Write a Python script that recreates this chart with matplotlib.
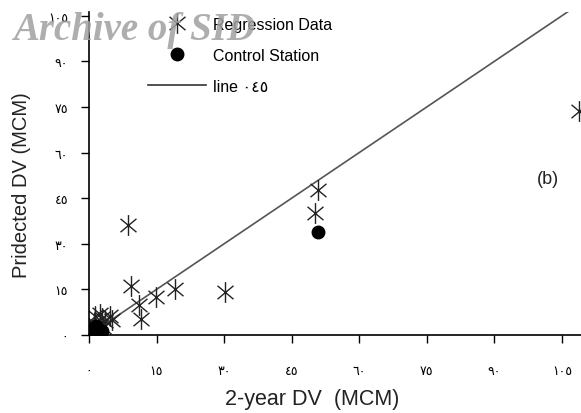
import numpy as np
import matplotlib
matplotlib.use('Agg')
import matplotlib.pyplot as plt
from matplotlib.lines import Line2D
from matplotlib.path import Path

plt.rcParams['font.family'] = ['Liberation Sans', 'DejaVu Sans']

# Regression data (2-year DV vs predicted DV, MCM)
reg_x = [108.8, 50.8, 50.2, 8.7, 9.3, 11.1, 11.5, 14.9, 19.1, 30.2,
         1.3, 4.7, 2.4, 0.5, 0.8, 1.2, 1.5, 2.0, 2.5, 1.0, 3.0, 3.5,
         5.2, 0.3, 1.8, 2.8]
reg_y = [73.5, 47.7, 40.1, 36.2, 16.1, 9.9, 5.3, 12.5, 15.1, 14.1,
         6.2, 6.2, 6.9, 0.3, 1.0, 0.5, 2.0, 1.2, 3.0, 4.0, 2.5, 4.5,
         5.0, 1.5, 0.2, 5.5]

# Control stations
ctl_x = [50.8, 0.6, 1.0, 1.4, 1.8, 0.9, 2.3, 1.2, 2.8, 0.4, 1.6]
ctl_y = [33.9, 0.4, 0.8, 0.3, 1.0, 1.6, 0.7, 2.2, 1.4, 1.1, 2.8]

ticks = [0, 15, 30, 45, 60, 75, 90, 105]
tick_labels = ['٠', '١٥', '٣٠', '٤٥', '٦٠', '٧٥', '٩٠', '١٠٥']

# asterisk marker: vertical bar plus an X
a = np.deg2rad(40)
cx, sy = np.cos(a), np.sin(a)
star = Path([(0, -1), (0, 1), (-cx, -sy), (cx, sy), (-cx, sy), (cx, -sy)],
            [Path.MOVETO, Path.LINETO] * 3)

fig = plt.figure(figsize=(5.81, 4.14), dpi=100)
ax = fig.add_axes([89 / 581, 78 / 414, 1 - 89 / 581, 323 / 414])

ax.plot([0, 110], [0, 110], color='#555555', lw=1.2, zorder=1)
ax.plot(reg_x, reg_y, linestyle='none', marker=star, markersize=15,
        markeredgewidth=1.0, color='#222222', zorder=2)
ax.plot(ctl_x, ctl_y, linestyle='none', marker='o', markersize=9,
        color='black', zorder=3)

ax.set_xlim(0, 109.2)
ax.set_ylim(0, 106.2)
ax.set_xticks(ticks)
ax.set_xticklabels(tick_labels, fontsize=9, family='DejaVu Sans')
ax.set_yticks(ticks)
ax.set_yticklabels(tick_labels, fontsize=9, family='DejaVu Sans')
ax.tick_params(direction='out', length=6, width=1, color='black')
ax.tick_params(axis='x', pad=15)
ax.tick_params(axis='y', pad=9)
for side in ['top', 'right']:
    ax.spines[side].set_visible(False)
for side in ['left', 'bottom']:
    ax.spines[side].set_linewidth(1.2)

ax.set_xlabel('2-year DV  (MCM)', fontsize=15.5, color='#222222')
ax.xaxis.set_label_coords((312 - 89) / 492, -(389 - 336) / 323)
ax.set_ylabel('Pridected DV (MCM)', fontsize=14.5, color='#222222')
ax.yaxis.set_label_coords(-(89 - 31) / 492, (336 - 185) / 323)

ax.text(101.9, 51.5, '(b)', fontsize=13, ha='center', va='center', color='#222222')

handles = [
    Line2D([], [], linestyle='none', marker=star, markersize=15,
           markeredgewidth=1.0, color='#222222'),
    Line2D([], [], linestyle='none', marker='o', markersize=9, color='black'),
    Line2D([], [], color='#333333', lw=1.2),
]
labels = ['Regression Data', 'Control Station', 'line ٠٤٥']
ax.legend(handles, labels, loc='upper left', frameon=False,
          bbox_to_anchor=(148 / 581, 1 - 18 / 414), bbox_transform=fig.transFigure,
          fontsize=11.5, handlelength=3.6, handletextpad=0.5, labelspacing=1.0,
          borderpad=0, borderaxespad=0)

fig.text(13 / 581, 1 - 40 / 414, 'Archive of SID', fontsize=28, family='Liberation Serif',
         fontweight='bold', fontstyle='italic', color='#a0a0a0', alpha=0.85, zorder=10)

fig.savefig('out.png', dpi=100)
